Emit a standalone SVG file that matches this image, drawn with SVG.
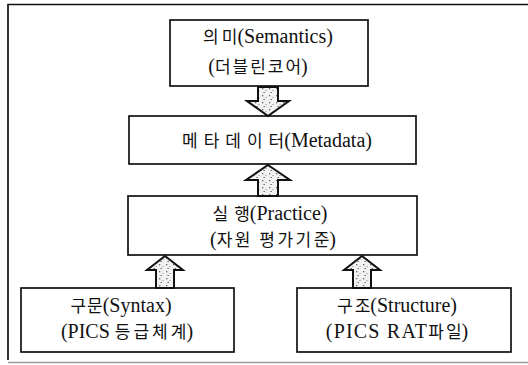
<svg xmlns="http://www.w3.org/2000/svg" width="528" height="365" viewBox="0 0 528 365">
  <style>
    .box { fill: #ffffff; stroke: #111111; stroke-width: 1.7; }
    .lbl { font-family: "Liberation Serif", "Noto Sans CJK KR", serif; font-size: 20px; fill: #111111; text-anchor: middle; }
    .ko { font-family: "Noto Sans CJK KR", sans-serif; font-size: 17px; }
    .arrow { fill: url(#speckle); stroke: #111111; stroke-width: 2; stroke-linejoin: miter; }
    .frame { fill: none; stroke: #111111; stroke-width: 1.7; }
  </style>
  <defs>
    <!-- light stipple used inside the block arrows -->
    <pattern id="speckle" width="7" height="7" patternUnits="userSpaceOnUse">
      <rect width="7" height="7" fill="#f2f2f2"/>
      <rect x="1" y="1" width="1.3" height="1.3" fill="#666"/>
      <rect x="4.5" y="3" width="1" height="1" fill="#888"/>
      <rect x="2.5" y="5" width="1.3" height="1" fill="#555"/>
    </pattern>
  </defs>

  <rect width="528" height="365" fill="#ffffff"/>

  <!-- outer frame (open on the right) -->
  <path class="frame" d="M528 4.5 H8 V360"/>
  <path d="M8 362.5 H528" fill="none" stroke="#9a9a9a" stroke-width="1.4"/>

  <!-- Korean runs are letter-spaced; the last syllable sits outside the spaced run so no gap precedes the bracket -->
  <g id="semantics">
    <rect class="box" x="170" y="20" width="198" height="66"/>
    <text class="lbl" x="268" y="43"><tspan class="ko" letter-spacing="3">의</tspan><tspan class="ko">미</tspan>(Semantics)</text>
    <text class="lbl" x="258" y="73">(<tspan class="ko" letter-spacing="2">더블린코</tspan><tspan class="ko">어</tspan>)</text>
  </g>

  <g id="metadata">
    <rect class="box" x="129" y="116" width="287" height="48"/>
    <text class="lbl" x="277" y="147"><tspan class="ko" letter-spacing="6">메타데이</tspan><tspan class="ko">터</tspan>(Metadata)</text>
  </g>

  <g id="practice">
    <rect class="box" x="128" y="196" width="289" height="59"/>
    <text class="lbl" x="270" y="220"><tspan class="ko" letter-spacing="6">실</tspan><tspan class="ko">행</tspan>(Practice)</text>
    <text class="lbl" x="273" y="246">(<tspan class="ko" letter-spacing="2.5">자원 평가기</tspan><tspan class="ko">준</tspan>)</text>
  </g>

  <g id="syntax">
    <rect class="box" x="21" y="288" width="213" height="64"/>
    <text class="lbl" x="121" y="312"><tspan class="ko" letter-spacing="1">구</tspan><tspan class="ko">문</tspan>(Syntax)</text>
    <text class="lbl" x="127" y="338">(PICS <tspan class="ko" letter-spacing="3">등급체</tspan><tspan class="ko">계</tspan>)</text>
  </g>

  <g id="structure">
    <rect class="box" x="297" y="288" width="214" height="64"/>
    <text class="lbl" x="397" y="312"><tspan class="ko" letter-spacing="2">구</tspan><tspan class="ko">조</tspan>(Structure)</text>
    <text class="lbl" x="397" y="338"><tspan letter-spacing="1.2">(PICS  RAT</tspan><tspan class="ko" letter-spacing="2">파</tspan><tspan class="ko">일</tspan>)</text>
  </g>

  <g id="connectors">
    <!-- semantics down to metadata -->
    <path class="arrow" transform="translate(268 87)" d="M-10 0 H10 V14 H21 L0 29 L-21 14 H-10 Z"/>
    <!-- practice up to metadata -->
    <path class="arrow" transform="translate(268 165)" d="M0 0 L22 15 H10 V31 H-10 V15 H-22 Z"/>
    <!-- syntax up to practice -->
    <path class="arrow" transform="translate(165 256)" d="M0 0 L18 14 H9 V32 H-9 V14 H-18 Z"/>
    <!-- structure up to practice -->
    <path class="arrow" transform="translate(362 256)" d="M0 0 L18 14 H9 V32 H-9 V14 H-18 Z"/>
  </g>
</svg>
